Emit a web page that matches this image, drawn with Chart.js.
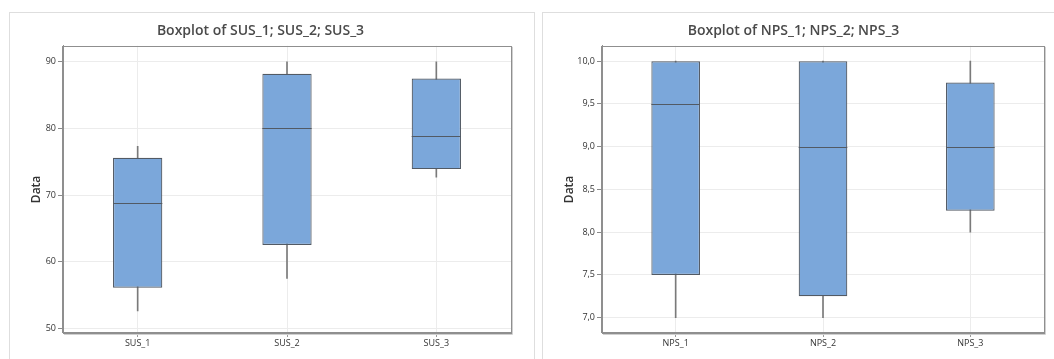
<!DOCTYPE html>
<html><head><meta charset="utf-8">
<script src="https://cdn.jsdelivr.net/npm/chart.js@4.4.0/dist/chart.umd.min.js"></script>
<style>
html,body{margin:0;padding:0;width:1054px;height:359px;overflow:hidden;background:#fff;}
.panel{position:absolute;top:12px;width:526px;height:360px;border:1px solid #dedede;box-sizing:border-box;}
#p1{left:9px;} #p2{left:542px;}
canvas{position:absolute;top:0;}
#c1{left:10px;} #c2{left:543px;}
</style></head>
<body>
<div class="panel" id="p1"></div>
<div class="panel" id="p2"></div>
<canvas id="c1" width="525" height="359"></canvas>
<canvas id="c2" width="525" height="359"></canvas>
<script>
// ---- SUS data ----
const SUS_CATEGORIES = ['SUS_1', 'SUS_2', 'SUS_3'];
const SUS_MIN    = [52.6, 57.5, 72.7];
const SUS_Q1     = [56.1, 62.5, 73.9];
const SUS_MEDIAN = [68.8, 80.0, 78.9];
const SUS_Q3     = [75.6, 88.2, 87.5];
const SUS_MAX    = [77.3, 90.0, 90.0];
const SUS_TICKS  = [50, 60, 70, 80, 90];
const SUS_RANGE  = [49.3, 92.4];

// ---- NPS data ----
const NPS_CATEGORIES = ['NPS_1', 'NPS_2', 'NPS_3'];
const NPS_MIN    = [7.0, 7.0, 8.0];
const NPS_Q1     = [7.5, 7.25, 8.25];
const NPS_MEDIAN = [9.5, 9.0, 9.0];
const NPS_Q3     = [10.0, 10.0, 9.75];
const NPS_MAX    = [10.0, 10.0, 10.0];
const NPS_TICKS  = [7.0, 7.5, 8.0, 8.5, 9.0, 9.5, 10.0];
const NPS_RANGE  = [6.82, 10.18];

const FONT = "'Open Sans', 'Noto Sans', sans-serif";

const boxPlugin = {
  id: 'boxExtras',
  afterDatasetsDraw(chart) {
    const ctx = chart.ctx;
    const meta = chart.getDatasetMeta(0);
    const meds = chart.data.datasets[0].medians;
    const y = chart.scales.y;
    ctx.save();
    ctx.strokeStyle = '#525a64';
    ctx.lineWidth = 1;
    meta.data.forEach((bar, i) => {
      const py = Math.round(y.getPixelForValue(meds[i])) + 0.5;
      ctx.beginPath();
      ctx.moveTo(bar.x - bar.width / 2, py);
      ctx.lineTo(bar.x + bar.width / 2, py);
      ctx.stroke();
    });
    ctx.restore();
  },
  afterDraw(chart) {
    const a = chart.chartArea;
    const ctx = chart.ctx;
    ctx.save();
    ctx.lineWidth = 1;
    ctx.strokeStyle = '#d0d0d0';
    ctx.beginPath();
    ctx.moveTo(a.right + 1.5, a.top + 1);
    ctx.lineTo(a.right + 1.5, a.bottom + 1.5);
    ctx.lineTo(a.left + 1, a.bottom + 1.5);
    ctx.stroke();
    ctx.strokeStyle = '#8f8f8f';
    ctx.strokeRect(Math.round(a.left) - 0.5, Math.round(a.top) + 0.5,
                   Math.round(a.right - a.left) + 1, Math.round(a.bottom - a.top) - 1);
    ctx.restore();
  }
};

function makeBox(canvasId, title, cats, mins, q1s, meds, q3s, maxs, ticks, range, yWidth, fmt) {
  new Chart(document.getElementById(canvasId), {
    type: 'bar',
    data: {
      labels: cats,
      datasets: [
        {
          data: cats.map((c, i) => [q1s[i], q3s[i]]),
          medians: meds,
          backgroundColor: '#7ba7da',
          borderColor: '#525a64',
          borderWidth: 1.2,
          borderSkipped: false,
          barPercentage: 0.33,
          categoryPercentage: 1,
          grouped: false
        },
        {
          data: cats.map((c, i) => [mins[i], maxs[i]]),
          backgroundColor: '#7a7a7a',
          borderWidth: 0,
          barThickness: 1,
          grouped: false
        }
      ]
    },
    options: {
      responsive: false,
      animation: false,
      layout: { padding: { left: 0, right: 24, top: 0, bottom: 0 } },
      plugins: {
        legend: { display: false },
        tooltip: { enabled: false },
        title: {
          display: true,
          text: title,
          color: '#4a4a4a',
          font: { family: FONT, size: 14, weight: '600' },
          padding: { top: 23, bottom: 6 }
        }
      },
      scales: {
        x: {
          offset: true,
          grid: { offset: false, color: '#ececec', tickColor: '#9a9a9a', tickLength: 4, drawTicks: true },
          border: { display: true, color: '#8f8f8f' },
          ticks: { color: '#333', font: { family: FONT, size: 9 }, padding: 1, maxRotation: 0 },
          afterFit(s) { s.height = 26; }
        },
        y: {
          min: range[0],
          max: range[1],
          grid: { color: '#ececec', tickColor: '#8a8a8a', tickLength: 5 },
          border: { display: true, color: '#8f8f8f' },
          ticks: {
            color: '#333',
            font: { family: FONT, size: 9 },
            padding: 2,
            callback: (v) => fmt(v)
          },
          afterBuildTicks(s) { s.ticks = ticks.map(v => ({ value: v })); },
          afterFit(s) { s.width = yWidth; },
          title: {
            display: true,
            text: 'Data',
            color: '#333',
            font: { family: FONT, size: 12, weight: '600' },
            padding: { top: 19, bottom: 0 }
          }
        }
      }
    },
    plugins: [boxPlugin]
  });
}

makeBox('c1', 'Boxplot of SUS_1; SUS_2; SUS_3', SUS_CATEGORIES, SUS_MIN, SUS_Q1, SUS_MEDIAN, SUS_Q3, SUS_MAX,
        SUS_TICKS, SUS_RANGE, 53, v => String(v));
makeBox('c2', 'Boxplot of NPS_1; NPS_2; NPS_3', NPS_CATEGORIES, NPS_MIN, NPS_Q1, NPS_MEDIAN, NPS_Q3, NPS_MAX,
        NPS_TICKS, NPS_RANGE, 59, v => v.toFixed(1).replace('.', ','));
</script>
</body></html>
